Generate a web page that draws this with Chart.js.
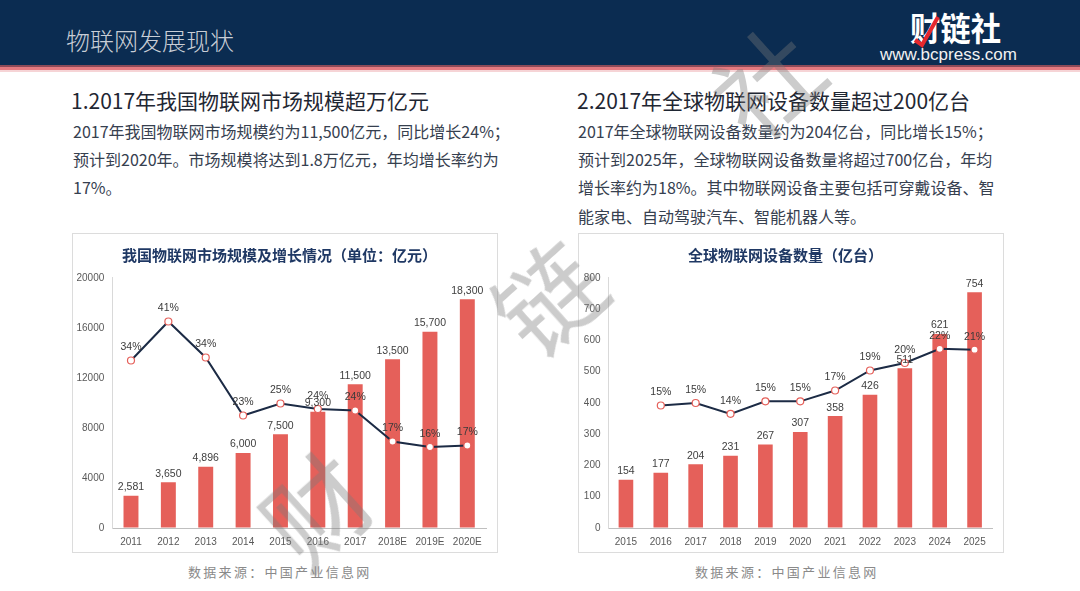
<!DOCTYPE html>
<html><head><meta charset="utf-8">
<script src="https://cdn.jsdelivr.net/npm/chart.js@4"></script>
<style>
html,body{margin:0;padding:0;background:#fff;}
#slide{position:relative;width:1080px;height:591px;overflow:hidden;background:#fff;font-family:"Noto Sans CJK SC","Noto Sans",sans-serif;}
#hdr{position:absolute;left:0;top:0;width:1080px;height:65px;background:#0b2c51;}
#hl1{position:absolute;left:0;top:65px;width:1080px;height:2px;background:#8c4a58;}
#hl2{position:absolute;left:0;top:67px;width:1080px;height:3px;background:#e57a80;}
#hl3{position:absolute;left:0;top:70px;width:1080px;height:2px;background:#f6d4d6;}
.abs{position:absolute;white-space:nowrap;}
#ptitle{left:66px;top:24px;font-size:24px;line-height:32px;color:#c9ced6;letter-spacing:0px;font-weight:300;}
#logo{left:910px;top:6px;font-size:33px;line-height:42px;color:#fff;font-weight:bold;letter-spacing:0px;transform:scaleX(0.92);transform-origin:left top;}
#url{left:880px;top:44px;font-size:17px;line-height:22px;color:#f2f2f2;font-family:"Liberation Sans",sans-serif;}
.h{font-size:21px;line-height:30px;color:#1f2733;}
.b{font-size:16px;line-height:28.2px;color:#36404f;}
.box{position:absolute;top:233px;width:424px;height:318px;border:1px solid #dcdcdc;}
.box canvas{position:absolute;left:0;top:0;}
.src{font-size:13px;line-height:18px;color:#8a8a8a;letter-spacing:2.3px;}
.wm{position:absolute;font-size:104px;line-height:110px;color:rgba(120,120,120,0.38);font-weight:normal;transform:rotate(-42deg);pointer-events:none;}
</style></head>
<body>
<div id="slide">
  <div id="hdr"></div><div id="hl1"></div><div id="hl2"></div><div id="hl3"></div>
  <div class="abs" id="ptitle">物联网发展现状</div>
  <div class="abs" id="logo">财链社</div>
  <svg class="abs" style="left:912px;top:14px" width="34" height="34"><polyline points="3,26 10,31 26,3" fill="none" stroke="#e5282e" stroke-width="4"/></svg>
  <div class="abs" id="url">www.bcpress.com</div>

  <div class="abs h" style="left:71px;top:85px;">1.2017年我国物联网市场规模超万亿元</div>
  <div class="abs b" style="left:73px;top:117px;">2017年我国物联网市场规模约为11,500亿元，同比增长24%；<br>预计到2020年。市场规模将达到1.8万亿元，年均增长率约为<br>17%。</div>

  <div class="abs h" style="left:577px;top:85px;">2.2017年全球物联网设备数量超过200亿台</div>
  <div class="abs b" style="left:578px;top:117px;">2017年全球物联网设备数量约为204亿台，同比增长15%；<br>预计到2025年，全球物联网设备数量将超过700亿台，年均<br>增长率约为18%。其中物联网设备主要包括可穿戴设备、智<br>能家电、自动驾驶汽车、智能机器人等。</div>

  <div class="box" style="left:72px;"><canvas id="c1" width="424" height="318"></canvas></div>
  <div class="box" style="left:578px;"><canvas id="c2" width="424" height="318"></canvas></div>

  <div class="abs src" style="left:188px;top:563px;">数据来源：中国产业信息网</div>
  <div class="abs src" style="left:695px;top:563px;">数据来源：中国产业信息网</div>

  <div class="wm" style="left:262px;top:452px;">财</div>
  <div class="wm" style="left:494px;top:240px;">链</div>
  <div class="wm" style="left:712px;top:24px;">社</div>
</div>
<script>
// ---- data ----
const years1 = ['2011','2012','2013','2014','2015','2016','2017','2018E','2019E','2020E'];
const market1 = [2581, 3650, 4896, 6000, 7500, 9300, 11500, 13500, 15700, 18300];
const growth1 = [33.5, 41.3, 34.1, 22.5, 24.9, 23.8, 23.5, 17.3, 16.2, 16.5];
const title1 = '我国物联网市场规模及增长情况（单位：亿元）';

const years2 = ['2015','2016','2017','2018','2019','2020','2021','2022','2023','2024','2025'];
const devices2 = [154, 177, 204, 231, 267, 307, 358, 426, 511, 621, 754];
const growth2 = [null, 14.7, 15.0, 13.7, 15.2, 15.2, 16.5, 18.9, 19.8, 21.5, 21.4];
const title2 = '全球物联网设备数量（亿台）';

// ---- styles ----
const RED = '#e5605a';
const NAVY = '#1c2b45';
const TICK = '#595959';

const labelPlugin = {
  id: 'valueLabels',
  afterDatasetsDraw(chart) {
    const ctx = chart.ctx;
    ctx.save();
    ctx.font = '10.5px "Liberation Sans", Arial, sans-serif';
    ctx.textAlign = 'center';
    chart.data.datasets.forEach((ds, di) => {
      const meta = chart.getDatasetMeta(di);
      meta.data.forEach((el, i) => {
        const v = ds.data[i];
        if (v === null || v === undefined) return;
        ctx.textBaseline = 'middle';
        if (ds.type === 'bar') {
          ctx.fillStyle = '#404040';
          ctx.fillText(v.toLocaleString('en-US'), el.x, el.y - 8.5);
        } else {
          ctx.fillStyle = '#3a3a3a';
          ctx.fillText(Math.round(v) + '%', el.x, el.y - 13);
        }
      });
    });
    ctx.restore();
  }
};

function makeChart(id, labels, bars, rates, title, yMax, yStep, rMax, yWidth, barPct) {
  return new Chart(document.getElementById(id), {
    data: {
      labels: labels,
      datasets: [
        { type: 'line', data: rates, yAxisID: 'y1', order: 0,
          borderColor: NAVY, borderWidth: 2, tension: 0, spanGaps: true,
          pointRadius: 3.5, pointBackgroundColor: '#fff', pointBorderColor: RED, pointBorderWidth: 1.2 },
        { type: 'bar', data: bars, yAxisID: 'y', order: 1,
          backgroundColor: RED, categoryPercentage: 1, barPercentage: barPct }
      ]
    },
    options: {
      responsive: false, animation: false, devicePixelRatio: 1,
      layout: { padding: { left: 0, right: 11, top: 0, bottom: 0 } },
      plugins: {
        legend: { display: false }, tooltip: { enabled: false },
        title: { display: true, text: title, color: '#1f3864',
          font: { family: '"Noto Sans CJK SC", sans-serif', size: 15, weight: 'bold', lineHeight: 1.333 },
          padding: { top: 11, bottom: 13 } }
      },
      scales: {
        x: {
          grid: { color: 'transparent', drawTicks: false },
          border: { color: '#bfbfbf', width: 1 },
          ticks: { color: TICK, padding: 8, maxRotation: 0, autoSkip: false,
            font: { family: '"Liberation Sans", Arial, sans-serif', size: 10 } },
          afterFit(s) { s.height = 24; }
        },
        y: {
          min: 0, max: yMax,
          grid: { color: 'transparent', drawTicks: false },
          border: { color: '#d9d9d9', width: 1 },
          ticks: { stepSize: yStep, color: TICK, padding: 8,
            callback: (v) => String(v),
            font: { family: '"Liberation Sans", Arial, sans-serif', size: 10 } },
          afterFit(s) { s.width = yWidth; }
        },
        y1: { display: false, min: 0, max: rMax, position: 'right' }
      }
    },
    plugins: [labelPlugin]
  });
}

makeChart('c1', years1, market1, growth1, title1, 20000, 4000, 50, 39.3, 0.4);
makeChart('c2', years2, devices2, growth2, title2, 800, 100, 30, 29.5, 0.42);
</script>
</body></html>
